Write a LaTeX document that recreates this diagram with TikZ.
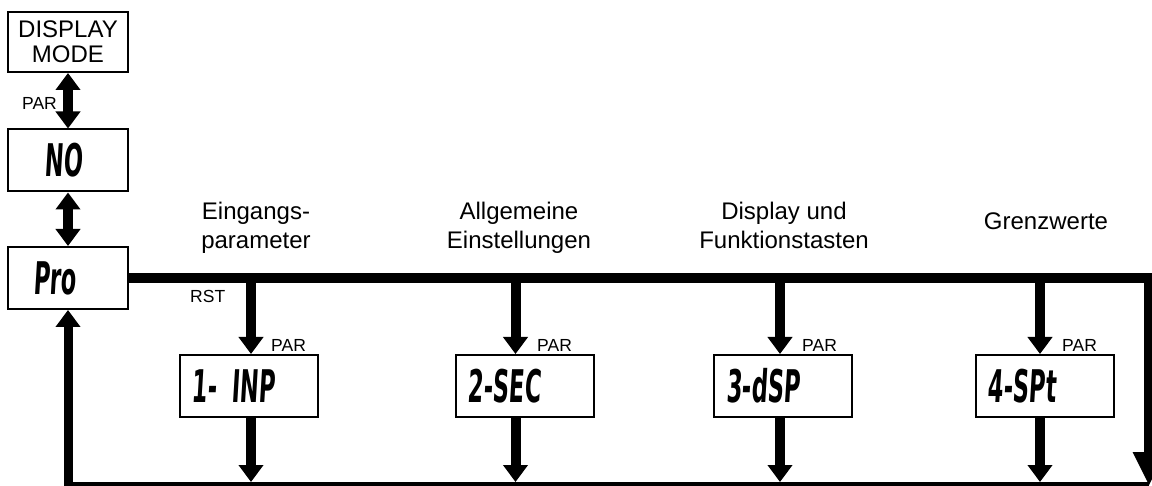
\documentclass[tikz,border=0pt]{standalone}
\usepackage{fontspec}
\setmainfont{Liberation Sans}
\newfontfamily\lcdfont{DejaVu Sans}[FakeStretch=0.5,FakeSlant=0.06]
\usetikzlibrary{arrows.meta}

\begin{document}
\begin{tikzpicture}[x=1pt, y=-1pt,
  lcdbox/.style = {draw, line width=2pt, shape=rectangle, minimum height=62pt, align=left, font=\lcdfont\bfseries\fontsize{45}{45}\selectfont},
  menubox/.style = {lcdbox, inner xsep=12pt, text width=114pt},
  caption/.style = {align=center, inner sep=0pt, font=\fontsize{24}{28.8}\selectfont},
  keylabel/.style = {inner sep=0pt, anchor=base west, font=\fontsize{17.5}{18}\selectfont},
  bus/.style = {line width=10pt},
  flow/.style = {bus, -{Triangle[width=24pt, length=17pt]}},
  dflow/.style = {bus, {Triangle[width=24pt, length=17pt]}-{Triangle[width=24pt, length=17pt]}}]
\useasboundingbox (0,0) rectangle (1152,486);

% left column
\node[draw, line width=2pt, shape=rectangle, minimum width=120pt, minimum height=60pt, align=center, inner sep=0pt, font=\fontsize{24}{25}\selectfont] (mode) at (68,42) {DISPLAY\\MODE};
\node[lcdbox, inner xsep=37pt, text width=46pt] (no) at (68,160.5) {NO};
\node[lcdbox, inner xsep=25pt, text width=70pt] (pro) at (68,278) {Pro};

% menu boxes
\node[menubox] (inp) at (248.5,386) {1- INP};
\node[menubox] (sec) at (524.5,386) {2-SEC};
\node[menubox] (dsp) at (783,386) {3-dSP};
\node[menubox] (spt) at (1044.5,386) {4-SPt};

\coordinate (inptap) at (251,278);
\coordinate (sectap) at (515.5,278);
\coordinate (dsptap) at (780,278);
\coordinate (spttap) at (1040,278);
\coordinate (inpret) at (251,482);
\coordinate (secret) at (515.5,482);
\coordinate (dspret) at (780,482);
\coordinate (sptret) at (1040,482);
\coordinate (rcorner) at (1149,486);

\draw[dflow] (mode) -- (no);
\draw[dflow] (no) -- (pro);

% bus and return loop
\draw[bus, -{Triangle[width=30pt, length=34pt]}] (pro.east) -| (rcorner);
\draw[flow, line width=9pt] (rcorner) -| (pro.south);

\draw[flow] (inptap) -- (inptap |- inp.north);
\draw[flow] (inptap |- inp.south) -- (inpret);
\draw[flow] (sectap) -- (sectap |- sec.north);
\draw[flow] (sectap |- sec.south) -- (secret);
\draw[flow] (dsptap) -- (dsptap |- dsp.north);
\draw[flow] (dsptap |- dsp.south) -- (dspret);
\draw[flow] (spttap) -- (spttap |- spt.north);
\draw[flow] (spttap |- spt.south) -- (sptret);

% key labels
\node[keylabel] (parmode) at (22,110) {PAR};
\node[keylabel] (rst) at (190,303) {RST};
\node[keylabel] (parinp) at (271,352) {PAR};
\node[keylabel] (parsec) at (537,352) {PAR};
\node[keylabel] (pardsp) at (802,352) {PAR};
\node[keylabel] (parspt) at (1062,352) {PAR};

% captions
\node[caption] (inpcap) at (256,228.6) {Eingangs-\strut\\parameter\strut};
\node[caption] (seccap) at (519,228.6) {Allgemeine\strut\\Einstellungen\strut};
\node[caption] (dspcap) at (784,228.6) {Display und\strut\\Funktionstasten\strut};
\node[caption] (sptcap) at (1046,224) {Grenzwerte\strut};
\end{tikzpicture}
\end{document}
